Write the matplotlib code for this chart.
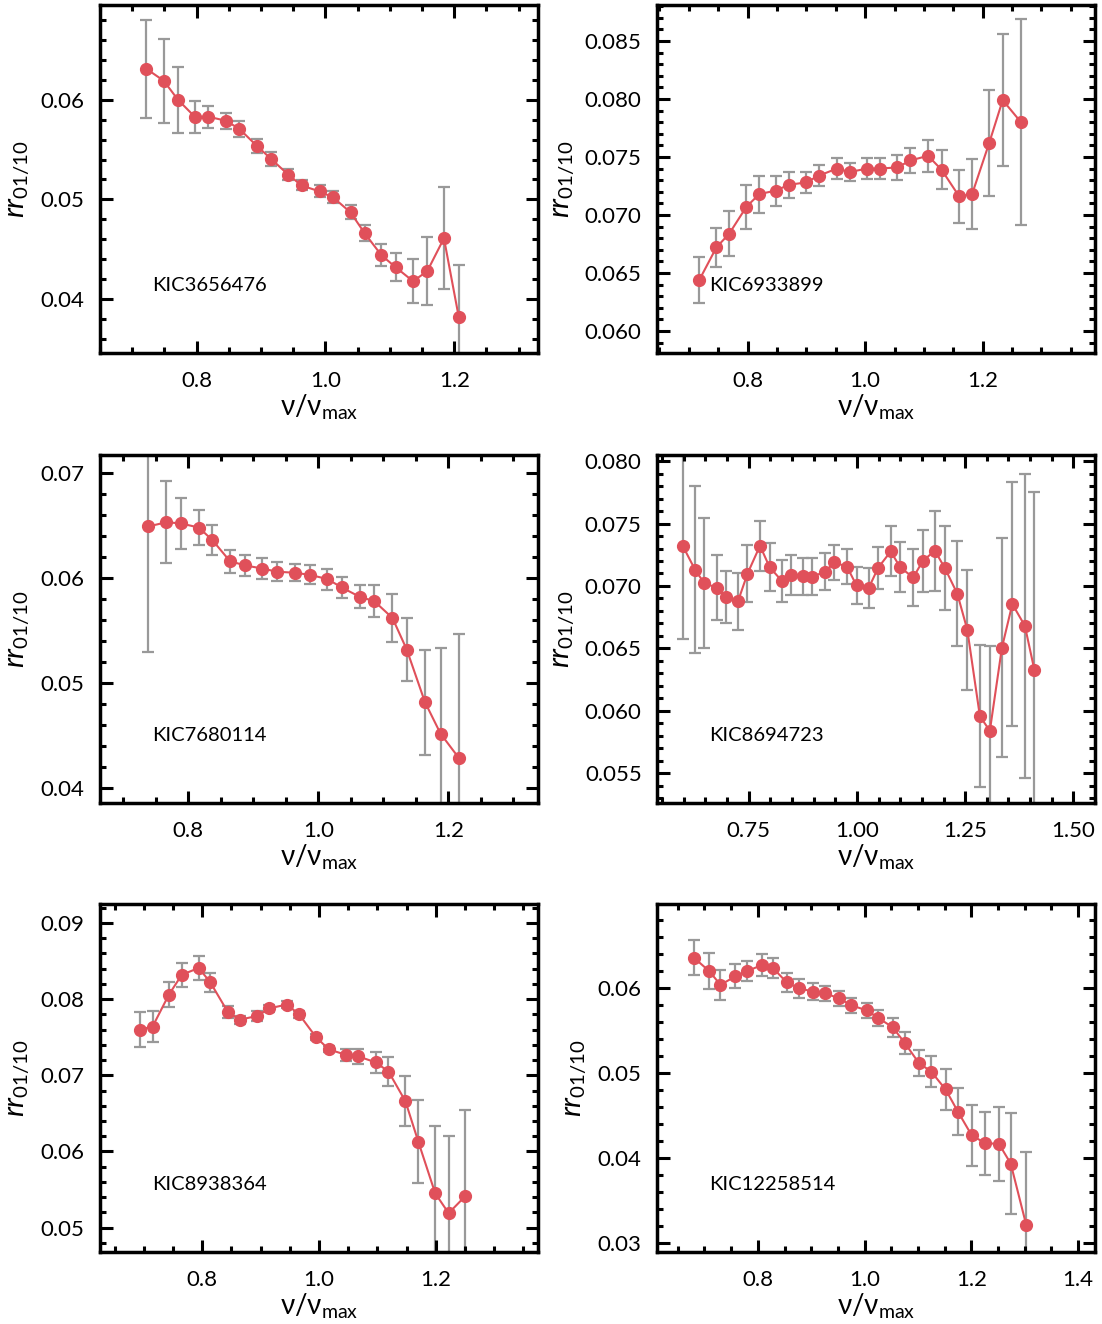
import matplotlib
matplotlib.use("Agg")
import matplotlib.pyplot as plt
from matplotlib.ticker import MultipleLocator, FormatStrFormatter

plt.rcParams['font.family'] = ['Lato', 'DejaVu Sans']
plt.rcParams['mathtext.fontset'] = 'custom'
plt.rcParams['mathtext.rm'] = 'Lato'
plt.rcParams['mathtext.it'] = 'Lato:italic'

# ---------------- data ----------------
names = ["KIC3656476", "KIC6933899", "KIC7680114", "KIC8694723", "KIC8938364", "KIC12258514"]

x1 = [0.722, 0.749, 0.771, 0.797, 0.818, 0.845, 0.866, 0.893, 0.915, 0.942, 0.963,
      0.991, 1.012, 1.039, 1.061, 1.087, 1.109, 1.136, 1.158, 1.184, 1.207]
y1 = [0.0631, 0.0619, 0.0600, 0.0583, 0.0583, 0.0579, 0.0571, 0.0554, 0.0541, 0.0525, 0.0514,
      0.0508, 0.0502, 0.0487, 0.0466, 0.0444, 0.0432, 0.0418, 0.0428, 0.0461, 0.0382]
e1 = [0.0049, 0.0042, 0.0033, 0.0016, 0.0011, 0.0008, 0.0008, 0.0007, 0.0007, 0.0006, 0.0005,
      0.0006, 0.0006, 0.0007, 0.0008, 0.0011, 0.0014, 0.0022, 0.0034, 0.0051, 0.0052]

x2 = [0.718, 0.747, 0.769, 0.798, 0.820, 0.848, 0.870, 0.899, 0.922, 0.952, 0.974,
      1.003, 1.025, 1.055, 1.077, 1.107, 1.130, 1.160, 1.182, 1.211, 1.234, 1.265]
y2 = [0.0644, 0.0672, 0.0684, 0.0707, 0.0718, 0.0721, 0.0726, 0.0728, 0.0734, 0.0740, 0.0737,
      0.0740, 0.0740, 0.0741, 0.0747, 0.0751, 0.0739, 0.0716, 0.0718, 0.0762, 0.0799, 0.0780]
e2 = [0.0020, 0.0017, 0.0019, 0.0019, 0.0016, 0.0013, 0.0011, 0.0009, 0.0009, 0.0009, 0.0008,
      0.0009, 0.0009, 0.0011, 0.0011, 0.0014, 0.0017, 0.0023, 0.0030, 0.0046, 0.0057, 0.0089]

x3 = [0.738, 0.766, 0.788, 0.816, 0.837, 0.864, 0.887, 0.914, 0.936, 0.964,
      0.987, 1.014, 1.036, 1.064, 1.086, 1.114, 1.136, 1.164, 1.188, 1.216]
y3 = [0.0649, 0.0653, 0.0652, 0.0648, 0.0636, 0.0616, 0.0612, 0.0609, 0.0606, 0.0605,
      0.0603, 0.0599, 0.0591, 0.0582, 0.0578, 0.0562, 0.0532, 0.0482, 0.0452, 0.0429]
e3 = [0.0119, 0.0039, 0.0024, 0.0017, 0.0014, 0.0011, 0.0010, 0.0010, 0.0009, 0.0008,
      0.0009, 0.0010, 0.0010, 0.0011, 0.0015, 0.0023, 0.0030, 0.0050, 0.0081, 0.0118]

x4 = [0.598, 0.626, 0.647, 0.676, 0.698, 0.725, 0.747, 0.776, 0.798, 0.826, 0.847,
      0.875, 0.897, 0.926, 0.948, 0.977, 0.999, 1.027, 1.049, 1.078, 1.100, 1.130,
      1.152, 1.180, 1.203, 1.232, 1.255, 1.284, 1.307, 1.335, 1.359, 1.388, 1.410]
y4 = [0.07318, 0.0713, 0.07023, 0.06986, 0.06911, 0.06876, 0.07098, 0.07323, 0.07152, 0.07042, 0.07088,
      0.07077, 0.07074, 0.07114, 0.07189, 0.07154, 0.07004, 0.06983, 0.07146, 0.07277, 0.07149, 0.07068,
      0.07200, 0.07283, 0.07144, 0.06937, 0.06648, 0.05957, 0.05838, 0.06506, 0.06855, 0.06680, 0.06326]
e4 = [0.0074, 0.0067, 0.0052, 0.0026, 0.0021, 0.0023, 0.0023, 0.0020, 0.0019, 0.0017, 0.0016,
      0.0015, 0.0015, 0.0015, 0.0014, 0.0014, 0.0015, 0.0016, 0.0017, 0.0020, 0.0020, 0.0023,
      0.0025, 0.0032, 0.0034, 0.0042, 0.0048, 0.0057, 0.0068, 0.0088, 0.0098, 0.0122, 0.0143]

x5 = [0.693, 0.715, 0.743, 0.765, 0.794, 0.814, 0.844, 0.864, 0.894, 0.915, 0.945, 0.966,
      0.995, 1.017, 1.046, 1.067, 1.097, 1.119, 1.148, 1.170, 1.199, 1.222, 1.250]
y5 = [0.0760, 0.0764, 0.0806, 0.0832, 0.0841, 0.0822, 0.0783, 0.0773, 0.0778, 0.0788, 0.0793, 0.0780,
      0.0750, 0.0734, 0.0727, 0.0725, 0.0717, 0.0705, 0.0666, 0.0613, 0.0545, 0.0519, 0.0541]
e5 = [0.0023, 0.0020, 0.0016, 0.0016, 0.0016, 0.0013, 0.0008, 0.0005, 0.0007, 0.0005, 0.0005, 0.0005,
      0.0004, 0.0004, 0.0008, 0.0010, 0.0014, 0.0019, 0.0033, 0.0055, 0.0088, 0.0101, 0.0113]

x6 = [0.680, 0.709, 0.730, 0.758, 0.779, 0.807, 0.828, 0.854, 0.877, 0.904, 0.926, 0.953, 0.975,
      1.004, 1.026, 1.053, 1.075, 1.102, 1.125, 1.152, 1.175, 1.201, 1.226, 1.252, 1.274, 1.303]
y6 = [0.0636, 0.0620, 0.0604, 0.0614, 0.0620, 0.0627, 0.0624, 0.0607, 0.0600, 0.0596, 0.0594, 0.0588, 0.0580,
      0.0574, 0.0565, 0.0554, 0.0536, 0.0512, 0.0502, 0.0481, 0.0455, 0.0427, 0.0418, 0.0417, 0.0394, 0.0322]
e6 = [0.0021, 0.0021, 0.0018, 0.0014, 0.0012, 0.0013, 0.0012, 0.0011, 0.0011, 0.0010, 0.0009, 0.0009, 0.0009,
      0.0009, 0.0009, 0.0011, 0.0013, 0.0015, 0.0018, 0.0024, 0.0028, 0.0036, 0.0037, 0.0044, 0.0059, 0.0085]

xs = [x1, x2, x3, x4, x5, x6]
ys = [y1, y2, y3, y4, y5, y6]
es = [e1, e2, e3, e4, e5, e6]

# ---------------- layout / style ----------------
W, H = 1102, 1324
fig = plt.figure(figsize=(W / 100, H / 100), dpi=100)

boxes = [(100, 5), (657, 5), (100, 455), (657, 455), (100, 904), (657, 904)]
bw, bh = 438, 348
xlims = [(0.65, 1.33), (0.646, 1.391), (0.664, 1.338), (0.538, 1.550), (0.625, 1.375), (0.611, 1.432)]
ylims = [(0.0346, 0.0695), (0.0581, 0.0881), (0.0386, 0.0717), (0.0526, 0.0805), (0.0468, 0.0925), (0.029, 0.0699)]
xmaj = [0.2, 0.2, 0.2, 0.25, 0.2, 0.2]
ymaj = [0.01, 0.005, 0.01, 0.005, 0.01, 0.01]
ymin = [0.002, 0.001, 0.002, 0.001, 0.002, 0.002]
yfmt = ["%.2f", "%.3f", "%.2f", "%.3f", "%.2f", "%.2f"]
xfmt = ["%.1f", "%.1f", "%.1f", "%.2f", "%.1f", "%.1f"]

red = "#E0505A"
grey = "#999999"

for i in range(6):
    left, top = boxes[i]
    ax = fig.add_axes([left / W, 1 - (top + bh) / H, bw / W, bh / H])
    ax.errorbar(xs[i], ys[i], yerr=es[i], fmt='none', ecolor=grey, elinewidth=1.6,
                capsize=4, capthick=1.6, zorder=1)
    ax.plot(xs[i], ys[i], '-o', color=red, lw=1.5, ms=8.5, zorder=2)
    ax.set_xlim(*xlims[i])
    ax.set_ylim(*ylims[i])
    ax.xaxis.set_major_locator(MultipleLocator(xmaj[i]))
    ax.xaxis.set_minor_locator(MultipleLocator(0.05))
    ax.yaxis.set_major_locator(MultipleLocator(ymaj[i]))
    ax.yaxis.set_minor_locator(MultipleLocator(ymin[i]))
    ax.xaxis.set_major_formatter(FormatStrFormatter(xfmt[i]))
    ax.yaxis.set_major_formatter(FormatStrFormatter(yfmt[i]))
    ax.tick_params(which='both', direction='in', top=True, right=True, width=2.2, labelsize=16)
    ax.tick_params(axis='x', which='major', length=9, pad=13)
    ax.tick_params(axis='y', which='major', length=9, pad=11)
    ax.tick_params(which='minor', length=4.5)
    for s in ax.spines.values():
        s.set_linewidth(2.5)
    ax.set_xlabel(r"$\mathrm{\nu/\nu_{max}}$", fontsize=20, labelpad=1)
    ax.set_ylabel(r"$rr_{\mathrm{01/10}}$", fontsize=21, labelpad=6)
    ax.text(0.12, 0.195, names[i], transform=ax.transAxes,
            fontsize=14.5, va='center', ha='left')

fig.savefig("out.png", dpi=100)
